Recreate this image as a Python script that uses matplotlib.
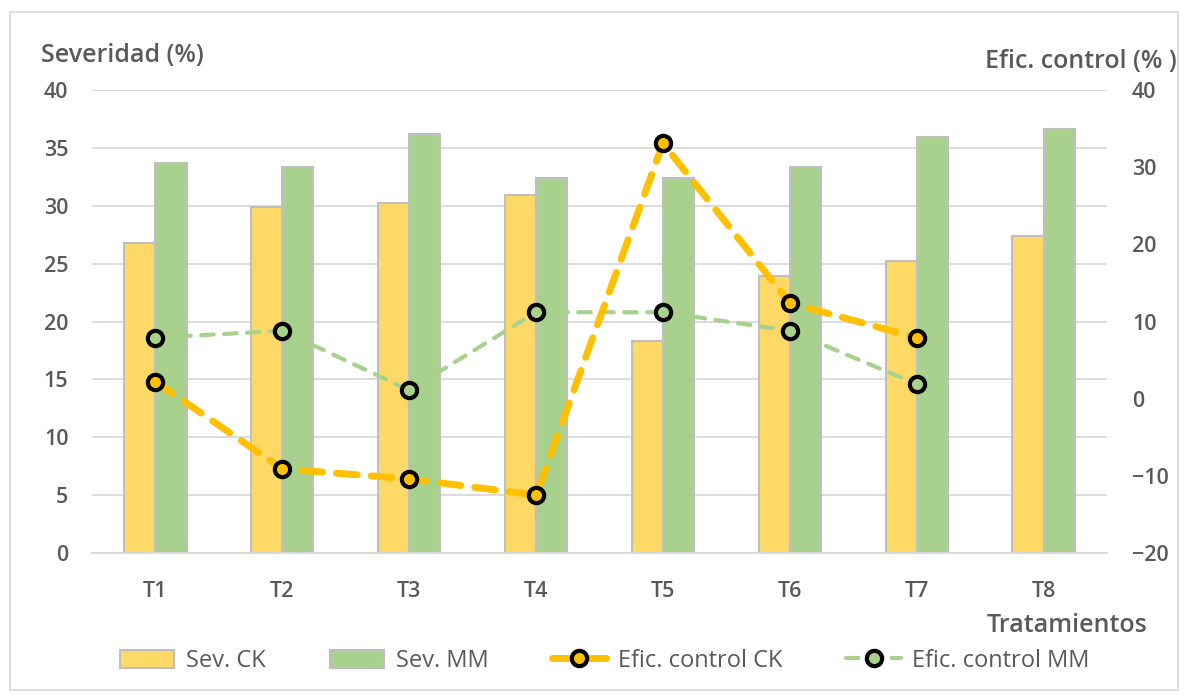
import matplotlib.pyplot as plt
import numpy as np
from matplotlib.patches import Rectangle

plt.rcParams["font.family"] = ["Open Sans", "DejaVu Sans"]

TEXT_COLOR = "#595959"
GRID_COLOR = "#D9D9D9"

treatments = ["T1", "T2", "T3", "T4", "T5", "T6", "T7", "T8"]
sev_ck = [26.8, 29.9, 30.2, 30.9, 18.3, 23.9, 25.2, 27.4]
sev_mm = [33.7, 33.35, 36.2, 32.4, 32.4, 33.35, 35.9, 36.6]
efic_ck = [2.2, -9.1, -10.4, -12.5, 33.1, 12.4, 7.9, np.nan]
efic_mm = [7.9, 8.8, 1.1, 11.2, 11.2, 8.8, 1.9, np.nan]

W, H = 1189, 695
fig = plt.figure(figsize=(W / 100, H / 100), dpi=100)
ax = fig.add_axes([92 / W, 1 - 553 / H, (1107 - 92) / W, (553 - 90) / H])

# chart border
fig.patches.append(Rectangle((10 / W, 1 - 690 / H), 1168 / W, 678 / H,
                             transform=fig.transFigure, fill=False,
                             edgecolor=GRID_COLOR, linewidth=1.2))

x = np.arange(len(treatments))
bw = 0.245
ax.bar(x - bw / 2, sev_ck, bw, color="#FFD966", edgecolor="#BFBFBF",
       linewidth=1.5, label="Sev. CK", zorder=2)
ax.bar(x + bw / 2, sev_mm, bw, color="#A9D18E", edgecolor="#BFBFBF",
       linewidth=1.5, label="Sev. MM", zorder=2)

ax.set_xlim(-0.5, len(treatments) - 0.5)
ax.set_ylim(0, 40)
ax.set_yticks(np.arange(0, 41, 5))
ax.grid(axis="y", color=GRID_COLOR, linewidth=1.3, zorder=0)
ax.set_axisbelow(True)
for s in ["top", "left", "right"]:
    ax.spines[s].set_visible(False)
ax.spines["bottom"].set_color(GRID_COLOR)
ax.spines["bottom"].set_linewidth(1.3)
ax.set_xticks(x)
ax.set_xticklabels(treatments)
ax.tick_params(axis="both", length=0, labelsize=15.5, labelcolor=TEXT_COLOR)
ax.tick_params(axis="x", pad=20)
ax.tick_params(axis="y", pad=17)

ax2 = ax.twinx()
ax2.plot(x, efic_ck, color="#FFC000", linewidth=5, dashes=(3, 2),
         dash_capstyle="round", marker="o", markersize=11,
         markerfacecolor="#FFC000", markeredgecolor="black",
         markeredgewidth=3, label="Efic. control CK", zorder=4)
ax2.plot(x, efic_mm, color="#A9D18E", linewidth=3, dashes=(3, 2.5),
         dash_capstyle="round", marker="o", markersize=11,
         markerfacecolor="#A9D18E", markeredgecolor="black",
         markeredgewidth=3, label="Efic. control MM", zorder=3)
ax2.set_ylim(-20, 40)
ax2.set_yticks(np.arange(-20, 41, 10))
for s in ["top", "left", "right", "bottom"]:
    ax2.spines[s].set_visible(False)
ax2.tick_params(axis="y", length=0, labelsize=15.5, labelcolor=TEXT_COLOR, pad=18)
for lbl in ax.get_xticklabels() + ax.get_yticklabels() + ax2.get_yticklabels():
    lbl.set_fontweight("semibold")

fig.text(41 / W, 1 - 56 / H, "Severidad (%)", fontsize=18, color=TEXT_COLOR,
         fontweight="semibold", va="center", ha="left")
fig.text(1177 / W, 1 - 62 / H, "Efic. control (% )", fontsize=18,
         color=TEXT_COLOR, fontweight="semibold", va="center", ha="right")
fig.text(1147 / W, 1 - 625 / H, "Tratamientos", fontsize=18,
         color=TEXT_COLOR, fontweight="semibold", va="center", ha="right")

h1, l1 = ax.get_legend_handles_labels()
h2, l2 = ax2.get_legend_handles_labels()
fig.legend(h1 + h2, l1 + l2, loc="center", ncol=4,
           bbox_to_anchor=(605 / W, 1 - 661 / H), frameon=False,
           fontsize=17, labelcolor=TEXT_COLOR, handlelength=2.3,
           handleheight=0.8, columnspacing=2.7, handletextpad=0.5)

fig.savefig("out.png", dpi=100)
